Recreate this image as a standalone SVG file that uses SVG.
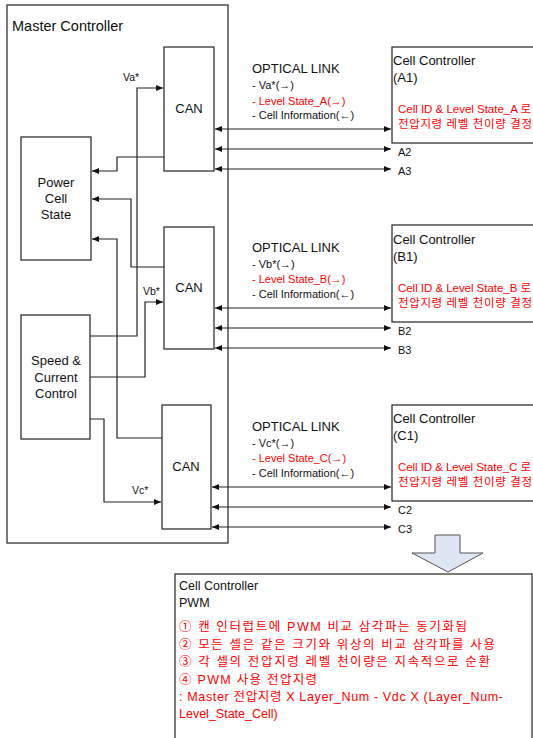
<svg xmlns="http://www.w3.org/2000/svg" width="533" height="738" viewBox="0 0 533 738">
<style>
.box{fill:#fff;stroke:#222;stroke-width:1.2}
.ln{fill:none;stroke:#222;stroke-width:1.2}
.t{font-family:"Liberation Sans","Noto Sans CJK KR",sans-serif;fill:#111}
.r{fill:#ff0000}
.c{text-anchor:middle}
</style>
<defs>
<marker id="ah" markerUnits="userSpaceOnUse" markerWidth="8" markerHeight="7" refX="7" refY="3" orient="auto-start-reverse">
<path d="M0,0 L7,3 L0,6 z" fill="#111"/>
</marker>
</defs>
<rect width="533" height="738" fill="#fff"/>

<g id="master">
<rect class="box" x="7" y="5" width="221" height="538"/>
<text class="t" x="12" y="31" font-size="14.5">Master Controller</text>
</g>

<g id="power-cell-state">
<rect class="box" x="21" y="137" width="70" height="123"/>
<text class="t c" x="56" y="187" font-size="13">Power</text>
<text class="t c" x="56" y="203" font-size="13">Cell</text>
<text class="t c" x="56" y="219" font-size="13">State</text>
</g>

<g id="speed-current">
<rect class="box" x="21" y="315" width="69" height="124"/>
<text class="t c" x="56" y="365" font-size="13">Speed &amp;</text>
<text class="t c" x="56" y="382" font-size="13">Current</text>
<text class="t c" x="56" y="398" font-size="13">Control</text>
</g>

<g id="can-a">
<rect class="box" x="164" y="47" width="50" height="124"/>
<text class="t c" x="189" y="113" font-size="13">CAN</text>
</g>
<g id="can-b">
<rect class="box" x="164" y="227" width="50" height="122"/>
<text class="t c" x="189" y="292" font-size="13">CAN</text>
</g>
<g id="can-c">
<rect class="box" x="162" y="405" width="49" height="124"/>
<text class="t c" x="186" y="471" font-size="13">CAN</text>
</g>

<g id="cell-a1">
<rect class="box" x="392" y="47" width="150" height="96"/>
<text class="t" x="393" y="65" font-size="13">Cell Controller</text>
<text class="t" x="393" y="82" font-size="13">(A1)</text>
<text class="t r" x="398" y="113" font-size="11.5" textLength="133" lengthAdjust="spacing">Cell ID &amp; Level State_A 로</text>
<text class="t r" x="398" y="128" font-size="11.5" textLength="134" lengthAdjust="spacing">전압지령 레벨 천이량 결정</text>
</g>
<g id="cell-b1">
<rect class="box" x="392" y="225" width="150" height="97"/>
<text class="t" x="393" y="244" font-size="13">Cell Controller</text>
<text class="t" x="393" y="261" font-size="13">(B1)</text>
<text class="t r" x="398" y="292" font-size="11.5" textLength="133" lengthAdjust="spacing">Cell ID &amp; Level State_B 로</text>
<text class="t r" x="398" y="307" font-size="11.5" textLength="134" lengthAdjust="spacing">전압지령 레벨 천이량 결정</text>
</g>
<g id="cell-c1">
<rect class="box" x="392" y="405" width="150" height="96"/>
<text class="t" x="393" y="423" font-size="13">Cell Controller</text>
<text class="t" x="393" y="440" font-size="13">(C1)</text>
<text class="t r" x="398" y="471" font-size="11.5" textLength="133" lengthAdjust="spacing">Cell ID &amp; Level State_C 로</text>
<text class="t r" x="398" y="486" font-size="11.5" textLength="134" lengthAdjust="spacing">전압지령 레벨 천이량 결정</text>
</g>

<g id="optical-a">
<text class="t" x="252" y="73" font-size="13">OPTICAL LINK</text>
<text class="t" x="252" y="89" font-size="11">- Va*(→)</text>
<text class="t r" x="252" y="105" font-size="11">- Level State_A(→)</text>
<text class="t" x="252" y="119" font-size="11">- Cell Information(←)</text>
</g>
<g id="optical-b">
<text class="t" x="252" y="252" font-size="13">OPTICAL LINK</text>
<text class="t" x="252" y="268" font-size="11">- Vb*(→)</text>
<text class="t r" x="252" y="283" font-size="11">- Level State_B(→)</text>
<text class="t" x="252" y="298" font-size="11">- Cell Information(←)</text>
</g>
<g id="optical-c">
<text class="t" x="252" y="431" font-size="13">OPTICAL LINK</text>
<text class="t" x="252" y="447" font-size="11">- Vc*(→)</text>
<text class="t r" x="252" y="462" font-size="11">- Level State_C(→)</text>
<text class="t" x="252" y="477" font-size="11">- Cell Information(←)</text>
</g>

<g id="connectors">
<path class="ln" d="M90,336 H137 V88 H163" marker-end="url(#ah)"/>
<path class="ln" d="M90,377 H145 V302 H163" marker-end="url(#ah)"/>
<path class="ln" d="M90,419 H104 V502 H161" marker-end="url(#ah)"/>
<path class="ln" d="M164,157 H117 V171 H92" marker-end="url(#ah)"/>
<path class="ln" d="M164,267 H131 V199 H92" marker-end="url(#ah)"/>
<path class="ln" d="M162,438 H117 V239 H92" marker-end="url(#ah)"/>

<path class="ln" d="M215,129 H391" marker-start="url(#ah)" marker-end="url(#ah)"/>
<path class="ln" d="M215,149 H391" marker-start="url(#ah)" marker-end="url(#ah)"/>
<path class="ln" d="M215,169 H391" marker-start="url(#ah)" marker-end="url(#ah)"/>
<path class="ln" d="M215,308 H391" marker-start="url(#ah)" marker-end="url(#ah)"/>
<path class="ln" d="M215,328 H391" marker-start="url(#ah)" marker-end="url(#ah)"/>
<path class="ln" d="M215,348 H391" marker-start="url(#ah)" marker-end="url(#ah)"/>
<path class="ln" d="M212,487 H391" marker-start="url(#ah)" marker-end="url(#ah)"/>
<path class="ln" d="M212,507 H391" marker-start="url(#ah)" marker-end="url(#ah)"/>
<path class="ln" d="M212,527 H391" marker-start="url(#ah)" marker-end="url(#ah)"/>
</g>

<g id="labels">
<text class="t" x="123" y="81" font-size="10.5">Va*</text>
<text class="t" x="143" y="295" font-size="10.5">Vb*</text>
<text class="t" x="132" y="494" font-size="10.5">Vc*</text>
<text class="t" x="398" y="156" font-size="11">A2</text>
<text class="t" x="398" y="175" font-size="11">A3</text>
<text class="t" x="398" y="335" font-size="11">B2</text>
<text class="t" x="398" y="354" font-size="11">B3</text>
<text class="t" x="398" y="514" font-size="11">C2</text>
<text class="t" x="398" y="533" font-size="11">C3</text>
</g>

<g id="down-arrow">
<path d="M435,535 H460 V553 H483 L448,572 L412,553 H435 Z" fill="#dfe6f3" stroke="#555" stroke-width="1"/>
</g>

<g id="pwm">
<rect class="box" x="175" y="574" width="357" height="180"/>
<text class="t" x="179" y="590" font-size="12.5">Cell Controller</text>
<text class="t" x="179" y="607" font-size="12.5">PWM</text>
<text class="t r" x="179" y="631" font-size="12.5" textLength="288" lengthAdjust="spacing">① 캔 인터럽트에 PWM 비교 삼각파는 동기화됨</text>
<text class="t r" x="179" y="649" font-size="12.5" textLength="316" lengthAdjust="spacing">② 모든 셀은 같은 크기와 위상의 비교 삼각파를 사용</text>
<text class="t r" x="179" y="666" font-size="12.5" textLength="311" lengthAdjust="spacing">③ 각 셀의 전압지령 레벨 천이량은 지속적으로 순환</text>
<text class="t r" x="179" y="684" font-size="12.5" textLength="138" lengthAdjust="spacing">④ PWM 사용 전압지령</text>
<text class="t r" x="179" y="701" font-size="12.5" textLength="324" lengthAdjust="spacing">: Master 전압지령 X Layer_Num - Vdc X (Layer_Num-</text>
<text class="t r" x="179" y="718" font-size="12.5">Level_State_Cell)</text>
</g>
</svg>
